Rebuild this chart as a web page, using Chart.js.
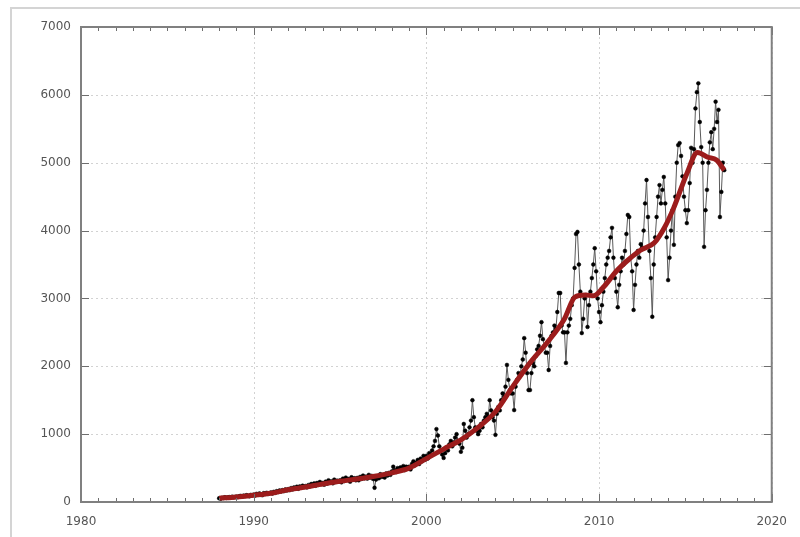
<!DOCTYPE html>
<html>
<head>
<meta charset="utf-8">
<script src="https://cdn.jsdelivr.net/npm/chart.js@4.4.1/dist/chart.umd.min.js"></script>
<style>
html,body{margin:0;padding:0;background:#fff;}
canvas{display:block;}
</style>
</head>
<body>
<canvas id="c" width="800" height="537"></canvas>
<script>
// ---- data ----
const monthlyStart = 1988; // first month (January 1988), monthly samples
const monthlyValues = [
  55,48,62,58,70,60,66,72,64,78,70,74,
  80,72,85,90,78,95,88,100,92,85,105,98,
  110,95,120,105,125,115,100,130,120,135,118,128,
  140,125,150,135,160,148,170,155,175,160,185,170,
  190,175,205,185,215,200,225,195,230,210,240,220,
  235,215,250,230,265,245,275,240,280,255,295,265,
  280,255,300,270,320,285,305,275,330,295,315,300,
  320,290,345,310,360,325,340,300,365,330,350,320,
  355,320,370,340,390,350,375,345,400,360,385,340,
  210,330,380,350,410,370,400,360,420,390,430,400,
  450,520,470,440,500,460,510,480,530,470,520,500,
  520,480,560,600,540,580,620,560,640,600,680,620,
  680,640,720,700,760,820,900,1075,980,820,760,700,
  650,720,800,760,850,900,820,880,950,1000,900,860,
  740,800,1150,1050,950,1000,1100,1200,1500,1250,1100,1050,
  1000,1050,1150,1100,1200,1250,1300,1250,1500,1350,1250,1200,
  990,1300,1400,1350,1500,1600,1550,1700,2020,1800,1650,1600,
  1600,1355,1700,1800,1900,1850,2000,2100,2415,2200,1900,1650,
  1650,1900,2050,2000,2150,2250,2300,2450,2650,2400,2300,2200,
  2200,1945,2300,2450,2500,2600,2550,2800,3080,3080,2600,2500,
  2500,2050,2500,2600,2700,2900,3000,3450,3950,3980,3500,3100,
  2490,2700,3000,3050,2580,2900,3100,3300,3500,3740,3400,3000,
  2800,2650,2900,3100,3300,3500,3600,3700,3900,4040,3600,3300,
  3100,2870,3200,3400,3600,3500,3700,3950,4230,4200,3600,3400,
  2830,3200,3500,3700,3600,3800,3750,4000,4400,4745,4200,3700,
  3300,2730,3500,3900,4200,4500,4670,4400,4600,4790,4400,3900,
  3270,3600,4000,4300,3790,4500,5000,5260,5290,5100,4800,4500,
  4300,4110,4300,4700,5220,5000,5200,5800,6040,6170,5600,5230,
  5000,3760,4300,4600,5000,5300,5450,5200,5500,5900,5600,5780,
  4200,4570,5000,4890
];
const trendYears  = [1988,1989,1990,1991,1992,1993,1994,1995,1996,1997,1998,1999,2000,2001,2002,2003,2004,2005,2006,2007,2008,2008.6,2009.2,2009.7,2010.3,2011,2011.7,2012.4,2013.2,2013.8,2014.3,2015.1,2015.7,2016.3,2016.8,2017.25];
const trendValues = [55,75,100,130,180,220,265,305,340,380,430,500,640,780,915,1100,1330,1700,2050,2350,2700,3020,3050,3040,3180,3400,3570,3710,3820,4050,4320,4850,5150,5080,5040,4890];
const xTickValues = [1980,1990,2000,2010,2020];
const yTickValues = [0,1000,2000,3000,4000,5000,6000,7000];

// ---- build ----
const monthlyPoints = monthlyValues.map((v,i)=>({x: monthlyStart + i/12, y: v}));
const trendPoints = trendYears.map((t,i)=>({x:t, y:trendValues[i]}));

const decor = {
  id:'decor',
  beforeDraw(chart){
    const ctx = chart.ctx;
    ctx.save();
    ctx.fillStyle='#fff';
    ctx.fillRect(0,0,chart.width,chart.height);
    ctx.strokeStyle='#d4d4d4';
    ctx.lineWidth=2;
    ctx.beginPath();
    ctx.moveTo(11,537); ctx.lineTo(11,8); ctx.lineTo(800,8);
    ctx.stroke();
    ctx.restore();
  },
  beforeDatasetsDraw(chart){
    const {ctx, chartArea:a, scales:{x,y}} = chart;
    ctx.save();
    ctx.strokeStyle='#d2d2d2';
    ctx.lineWidth=1;
    ctx.setLineDash([2,3]);
    ctx.beginPath();
    xTickValues.forEach(v=>{const px=Math.round(x.getPixelForValue(v))+0.5; ctx.moveTo(px,a.top); ctx.lineTo(px,a.bottom);});
    yTickValues.forEach(v=>{const py=Math.round(y.getPixelForValue(v))+0.5; ctx.moveTo(a.left,py); ctx.lineTo(a.right,py);});
    ctx.stroke();
    ctx.restore();
  },
  afterDatasetsDraw(chart){
    const {ctx, chartArea:a, scales:{x,y}} = chart;
    ctx.save();
    ctx.strokeStyle='#6e6e6e';
    ctx.lineWidth=1;
    ctx.beginPath();
    for(let yr=1980; yr<=2020; yr++){
      const px=Math.round(x.getPixelForValue(yr))+0.5;
      const len = (yr%10===0)?8:4;
      ctx.moveTo(px,a.bottom); ctx.lineTo(px,a.bottom-len);
      ctx.moveTo(px,a.top); ctx.lineTo(px,a.top+len);
    }
    yTickValues.forEach(v=>{
      const py=Math.round(y.getPixelForValue(v))+0.5;
      ctx.moveTo(a.left,py); ctx.lineTo(a.left+8,py);
      ctx.moveTo(a.right,py); ctx.lineTo(a.right-8,py);
    });
    ctx.stroke();
    ctx.strokeStyle='#808080';
    ctx.lineWidth=2;
    ctx.strokeRect(a.left, a.top, a.right-a.left, a.bottom-a.top);
    ctx.restore();
  }
};

new Chart(document.getElementById('c'), {
  type:'line',
  data:{
    datasets:[
      {
        label:'monthly',
        data: monthlyPoints,
        borderColor:'#5a5a5a',
        borderWidth:1,
        pointRadius:1.9,
        pointBackgroundColor:'#000',
        pointBorderColor:'#000',
        pointBorderWidth:0.5,
        tension:0,
        order:2
      },
      {
        label:'trend',
        data: trendPoints,
        borderColor:'#9c1c1c',
        borderWidth:5,
        pointRadius:0,
        cubicInterpolationMode:'monotone',
        order:1
      }
    ]
  },
  options:{
    responsive:false,
    animation:false,
    layout:{padding:{left:0,top:27,right:17,bottom:0}},
    plugins:{legend:{display:false},tooltip:{enabled:false}},
    scales:{
      x:{
        type:'linear', min:1980, max:2020,
        afterBuildTicks(s){ s.ticks = xTickValues.map(v=>({value:v})); },
        afterFit(s){ s.height = 35; },
        grid:{display:false, drawTicks:false},
        border:{display:false},
        ticks:{padding:13, color:'#555', font:{family:'DejaVu Sans', size:12}, maxRotation:0, autoSkip:false,
               callback:(v)=>String(v)}
      },
      y:{
        type:'linear', min:0, max:7000,
        afterBuildTicks(s){ s.ticks = yTickValues.map(v=>({value:v})); },
        afterFit(s){ s.width = 81; },
        grid:{display:false, drawTicks:false},
        border:{display:false},
        ticks:{padding:10, color:'#555', font:{family:'DejaVu Sans', size:12},
               callback:(v)=>String(v)}
      }
    }
  },
  plugins:[decor]
});
</script>
</body>
</html>
